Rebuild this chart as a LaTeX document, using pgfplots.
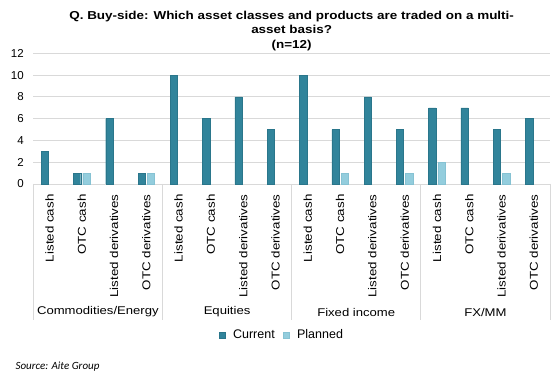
\documentclass[border=0pt]{standalone}
\usepackage{fontspec}
\setmainfont{Liberation Sans}
\newfontfamily\wide[FakeStretch=1.17]{Liberation Sans}
\newfontfamily\srcfont{Carlito}
\usepackage{pgfplots}
\pgfplotsset{compat=1.18}
\definecolor{cur}{HTML}{31849B}
\definecolor{curd}{HTML}{2A768B}
\definecolor{pln}{HTML}{93CDDD}
\definecolor{plnd}{HTML}{86C2D3}
\definecolor{gridc}{HTML}{D9D9D9}
\begin{document}
\begin{tikzpicture}
\useasboundingbox (0,0) rectangle (558pt,378pt);
\begin{axis}[
  at={(33.3pt,194pt)}, anchor=south west,
  scale only axis, width=516.7pt, height=130.7pt,
  xmin=-0.5, xmax=15.5, ymin=0, ymax=12,
  ybar=2pt, bar width=7.3pt,
  ytick={0,2,...,12},
  xtick={0,...,15},
  xticklabels={Listed cash,OTC cash,Listed derivatives,OTC derivatives,Listed cash,OTC cash,Listed derivatives,OTC derivatives,Listed cash,OTC cash,Listed derivatives,OTC derivatives,Listed cash,OTC cash,Listed derivatives,OTC derivatives},
  xticklabel style={rotate=90, anchor=east, font=\wide\fontsize{11.4}{13}\selectfont},
  xticklabel shift=7pt,
  yticklabel style={font=\fontsize{11.5}{13}\selectfont},
  yticklabel shift=6pt,
  /pgf/number format/assume math mode=true,
  axis x line*=bottom, axis y line*=left,
  y axis line style={draw=none},
  x axis line style={draw=gridc, line width=0.8pt},
  major tick length=0pt,
  ymajorgrids, grid style={draw=gridc, line width=0.8pt},
  clip=false,
  legend columns=2,
  legend style={at={(0.481,-1.155)}, anchor=center, draw=none, fill=none,
    font=\fontsize{12.5}{14}\selectfont, column sep=6pt, inner sep=0pt},
  legend image code/.code={\fill[#1] (0pt,-3pt) rectangle (6pt,3pt);},
  title={Q. Buy-side: Which asset classes and products are traded on a multi-\\asset basis?\\(n=12)},
  title style={font=\wide\bfseries\fontsize{11.5}{14.5}\selectfont, align=center, at={(0.5,1)}, anchor=south, yshift=-7pt},
]
\addplot[fill=cur, draw=curd, line width=0.4pt] coordinates {
 (0,3) (1,1) (2,6) (3,1)
 (4,10) (5,6) (6,8) (7,5)
 (8,10) (9,5) (10,8) (11,5)
 (12,7) (13,7) (14,5) (15,6)};
\addplot[fill=pln, draw=plnd, line width=0.4pt] coordinates {
 (1,1) (3,1) (9,1) (11,1) (12,2) (14,1)};
\legend{Current,Planned}
\foreach \xx in {-0.5,3.5,7.5,11.5,15.5}{
  \edef\tmp{\noexpand\draw[gridc, line width=0.8pt] (axis cs:\xx,0) -- ([yshift=-136pt]axis cs:\xx,0);}
  \tmp
}
\node[font=\wide\fontsize{11.2}{13}\selectfont] at (axis cs:1.5,0) [yshift=-128pt] {Commodities/Energy};
\node[font=\wide\fontsize{11.2}{13}\selectfont] at (axis cs:5.5,0) [yshift=-128pt] {Equities};
\node[font=\wide\fontsize{11.2}{13}\selectfont] at (axis cs:9.5,0) [yshift=-128pt] {Fixed income};
\node[font=\wide\fontsize{11.2}{13}\selectfont] at (axis cs:13.5,0) [yshift=-128pt] {FX/MM};
\end{axis}
\node[font=\srcfont\itshape\fontsize{11}{12}\selectfont, anchor=west] at (12pt,11pt) {Source: Aite Group};
\end{tikzpicture}
\end{document}
